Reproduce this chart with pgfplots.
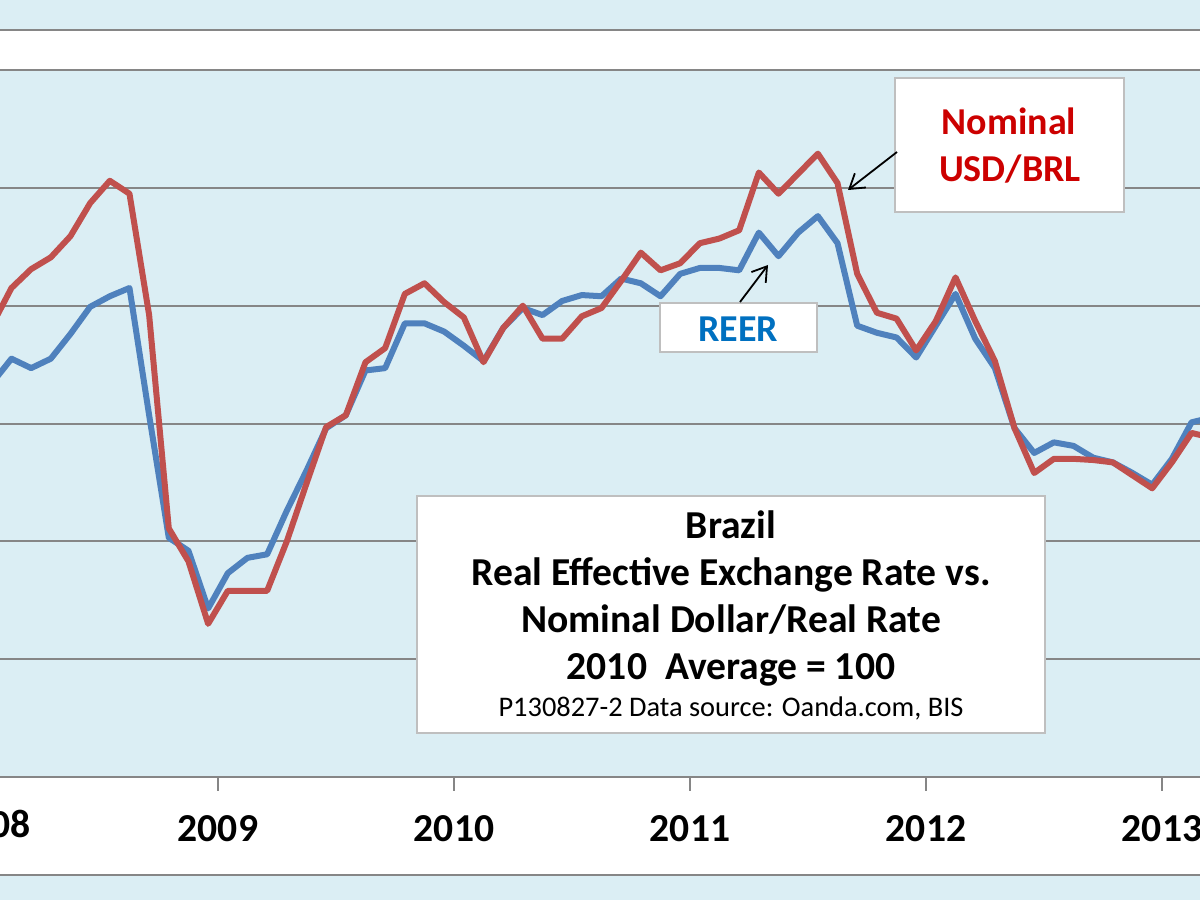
\documentclass[border=0pt]{standalone}
\usepackage{pgfplots}
\usepackage{pgfplotstable}
\pgfplotsset{compat=1.18}
\usepackage{fontspec}
\setmainfont{Carlito}
\usetikzlibrary{arrows.meta}
\definecolor{bgblue}{RGB}{219,238,244}
\definecolor{gridgray}{RGB}{134,134,134}
\definecolor{boxgray}{RGB}{191,191,191}
\definecolor{nomred}{RGB}{192,80,77}
\definecolor{reerblue}{RGB}{79,129,189}
\definecolor{txtred}{RGB}{204,0,0}
\definecolor{txtblue}{RGB}{0,112,192}

% n = month index, 0 = Jan 2008 (points at mid-month)
\pgfplotstableread{
n reer nom
0 93.4 98.3
1 95.5 101.5
2 94.7 103.1
3 95.5 104.1
4 97.6 105.9
5 99.9 108.7
6 100.8 110.6
7 101.5 109.5
8 90.7 99.2
9 80.3 81.1
10 79.2 78.3
11 74.3 73.0
12 77.3 75.8
13 78.6 75.8
14 78.9 75.8
15 82.6 80.0
16 86.0 84.9
17 89.6 89.7
18 90.7 90.7
19 94.5 95.2
20 94.7 96.4
21 98.5 101.0
22 98.5 101.9
23 97.8 100.3
24 96.6 99.0
25 95.3 95.2
26 98.1 98.1
27 99.8 100.0
28 99.2 97.2
29 100.4 97.2
30 100.9 99.1
31 100.8 99.8
32 102.3 102.1
33 101.9 104.5
34 100.8 103.0
35 102.7 103.6
36 103.2 105.3
37 103.2 105.7
38 103.0 106.4
39 106.2 111.3
40 104.2 109.5
41 106.2 111.2
42 107.6 112.9
43 105.3 110.4
44 98.3 102.7
45 97.7 99.4
46 97.3 98.9
47 95.6 96.2
48 98.3 98.7
49 101.0 102.4
50 97.2 98.7
51 94.7 95.3
52 89.6 89.6
53 87.5 85.8
54 88.4 87.0
55 88.1 87.0
56 87.1 86.9
57 86.7 86.7
58 85.8 85.6
59 84.8 84.5
60 87.0 86.7
61 90.1 89.2
62 90.5 88.8
}\datatable

\begin{document}
\begin{tikzpicture}
\useasboundingbox (0,0) rectangle (600pt,450pt);
\begin{scope}[x=0.5pt,y=-0.5pt,shift={(0pt,450pt)}]
  \fill[bgblue] (0,0) rectangle (1200,900);
  \fill[white] (0,30) rectangle (1200,70);
  \draw[gridgray,line width=1pt] (0,30) -- (1200,30);
  \fill[white] (0,777) rectangle (1200,875);
  \draw[gridgray,line width=1pt] (0,875) -- (1200,875);
\end{scope}
\begin{axis}[
  at={(0pt,61.5pt)}, anchor=south west,
  scale only axis, width=600pt, height=353.5pt,
  xmin=0.417, xmax=61.43, ymin=60, ymax=120,
  axis line style={draw=none},
  ytick={60,70,...,120}, yticklabels={},
  ymajorgrids, major grid style={gridgray,line width=1pt},
  y tick style={draw=none},
  xtick={11.5,23.5,35.5,47.5,59.5},
  xticklabels={2009,2010,2011,2012,2013},
  xtick pos=bottom,
  x tick style={gridgray,line width=0.8pt},
  tick align=outside, major tick length=7pt,
  xticklabel style={font=\fontsize{19.8}{24}\selectfont\bfseries, anchor=base, yshift=-25.5pt},
]
\addplot[reerblue, line width=3pt, line join=round] table[x=n,y=reer]{\datatable};
\addplot[nomred, line width=3pt, line join=round] table[x=n,y=nom]{\datatable};
\end{axis}
\begin{scope}[x=0.5pt,y=-0.5pt,shift={(0pt,450pt)}]
  \node[font=\fontsize{19.8}{24}\selectfont\bfseries, anchor=base] at (-10,838) {2008};
  % Nominal label box
  \draw[boxgray,line width=0.6pt,fill=white] (895,78) rectangle (1124,212);
  \node[font=\fontsize{19}{23}\selectfont\bfseries, text=txtred, anchor=base] at (1009,135) {Nominal};
  \node[font=\fontsize{19}{23}\selectfont\bfseries, text=txtred, anchor=base] at (1010,182) {USD/BRL};
  \draw[black,line width=0.9pt,-{Straight Barb[length=7pt,width=9pt]}] (897,152) -- (848,190);
  % REER label box
  \draw[boxgray,line width=0.6pt,fill=white] (660,303) rectangle (817,352);
  \node[font=\fontsize{19}{23}\selectfont\bfseries, text=txtblue, anchor=base] at (738,342) {REER};
  \draw[black,line width=0.9pt,-{Straight Barb[length=7pt,width=9pt]}] (740,302) -- (768,265);
  % Title box
  \draw[boxgray,line width=0.6pt,fill=white] (417,496) rectangle (1045,733);
  \node[font=\fontsize{19.8}{24}\selectfont\bfseries, anchor=base] at (731,539) {Brazil};
  \node[font=\fontsize{19.8}{24}\selectfont\bfseries, anchor=base] at (731,586) {Real Effective Exchange Rate vs.};
  \node[font=\fontsize{19.8}{24}\selectfont\bfseries, anchor=base] at (731,633) {Nominal Dollar/Real Rate};
  \node[font=\fontsize{19.8}{24}\selectfont\bfseries, anchor=base] at (731,680) {2010\ \ Average = 100};
  \node[font=\fontsize{14.2}{17}\selectfont, anchor=base] at (731,717) {P130827-2 Data source: Oanda.com, BIS};
\end{scope}
\end{tikzpicture}
\end{document}
